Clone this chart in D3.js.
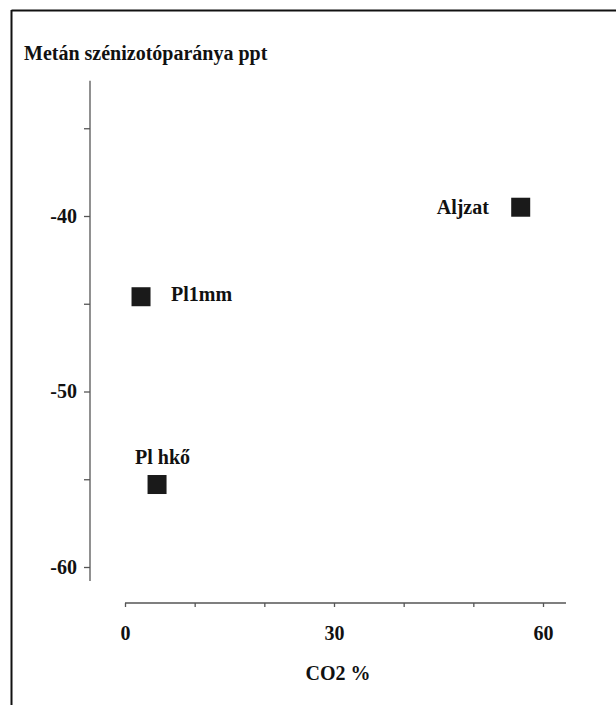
<!DOCTYPE html>
<html><head><meta charset="utf-8">
<script src="https://cdn.jsdelivr.net/npm/d3@7"></script>
<style>body{margin:0;background:#fff}svg{display:block}</style>
</head><body>
<script>
const labels = ["Aljzat", "Pl1mm", "Pl hkő"];
const co2 = [56.8, 2.3, 4.6];
const ratio = [-39.5, -44.6, -55.3];
const yTicks = [-35, -40, -45, -50, -55, -60];
const yTickLabels = ["", "-40", "", "-50", "", "-60"];
const xTicks = [0, 10, 20, 30, 40, 50, 60];
const xTickLabels = ["0", "", "", "30", "", "", "60"];
const title = "Metán szénizotóparánya ppt";
const xTitle = "CO2 %";

const W = 616, H = 705;
const font = "'Liberation Serif', 'Times New Roman', serif";
const fs = 20;
const svg = d3.select("body").append("svg").attr("width", W).attr("height", H);

// frame (top and left edges)
svg.append("line").attr("x1", 11.5).attr("x2", W).attr("y1", 10.5).attr("y2", 10.5).attr("stroke", "#111").attr("stroke-width", 2);
svg.append("line").attr("x1", 11.5).attr("x2", 11.5).attr("y1", 10).attr("y2", H).attr("stroke", "#111").attr("stroke-width", 2);

const x = d3.scaleLinear().domain([0, 60]).range([125, 543]);
const y = d3.scaleLinear().domain([-40, -60]).range([216, 567]);

// y axis
const yAxisX = 90;
svg.append("line").attr("x1", yAxisX).attr("x2", yAxisX).attr("y1", y(-32.3)).attr("y2", y(-60.8)).attr("stroke", "#555").attr("stroke-width", 1.3);
const yg = svg.append("g").attr("transform", `translate(${yAxisX},0)`)
  .call(d3.axisLeft(y).tickValues(yTicks).tickFormat((d, i) => yTickLabels[i]).tickSize(6).tickPadding(7));
yg.select(".domain").remove();
yg.selectAll(".tick line").attr("stroke", "#555").attr("stroke-width", 1.3);
yg.selectAll(".tick text").attr("font-family", font).attr("font-weight", "bold").attr("font-size", fs).attr("fill", "#111");

// x axis
const xAxisY = 603;
svg.append("line").attr("x1", x(0)).attr("x2", x(63.3)).attr("y1", xAxisY).attr("y2", xAxisY).attr("stroke", "#555").attr("stroke-width", 1.3);
const xg = svg.append("g").attr("transform", `translate(0,${xAxisY})`)
  .call(d3.axisBottom(x).tickValues(xTicks).tickFormat((d, i) => xTickLabels[i]).tickSize(4).tickPadding(19));
xg.select(".domain").remove();
xg.selectAll(".tick line").attr("stroke", "#555").attr("stroke-width", 1.3);
xg.selectAll(".tick text").attr("font-family", font).attr("font-weight", "bold").attr("font-size", fs).attr("fill", "#111");

// titles
svg.append("text").attr("x", 24).attr("y", 60).text(title)
  .attr("font-family", font).attr("font-weight", "bold").attr("font-size", fs).attr("fill", "#111");
svg.append("text").attr("x", 338).attr("y", 680).attr("text-anchor", "middle").text(xTitle)
  .attr("font-family", font).attr("font-weight", "bold").attr("font-size", fs).attr("fill", "#111");

// points
const data = labels.map((l, i) => ({ label: l, x: co2[i], y: ratio[i] }));
const s = 19;
svg.selectAll("rect.pt").data(data).enter().append("rect").attr("class", "pt")
  .attr("x", d => x(d.x) - s / 2).attr("y", d => y(d.y) - s / 2)
  .attr("width", s).attr("height", s).attr("fill", "#1a1a1a");

// labels
const labelPos = {
  "Aljzat": { dx: -84, dy: 7, anchor: "start" },
  "Pl1mm": { dx: 30, dy: 4, anchor: "start" },
  "Pl hkő": { dx: -22, dy: -21, anchor: "start" }
};
svg.selectAll("text.lbl").data(data).enter().append("text").attr("class", "lbl")
  .attr("x", d => x(d.x) + labelPos[d.label].dx).attr("y", d => y(d.y) + labelPos[d.label].dy)
  .attr("text-anchor", d => labelPos[d.label].anchor).text(d => d.label)
  .attr("font-family", font).attr("font-weight", "bold").attr("font-size", fs).attr("fill", "#111");
</script>
</body></html>
